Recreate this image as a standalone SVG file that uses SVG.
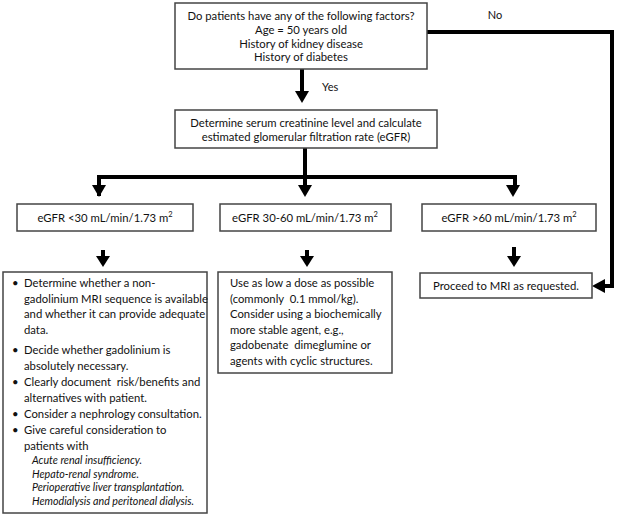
<svg xmlns="http://www.w3.org/2000/svg" width="618" height="516" viewBox="0 0 618 516">
<style>
text{font-family:Lato,"Liberation Sans",sans-serif;font-size:11.3px;fill:#111}
.c{text-anchor:middle}
.it{font-style:italic;font-size:10.7px}
.box{fill:#fff;stroke:#444;stroke-width:1.5}
.ln{fill:none;stroke:#000;stroke-width:4}
.sup{font-size:7.5px}
.pre{white-space:pre}
</style>
<g id="connectors">
<path class="ln" d="M302,69 V92"/><path d="M295,91 L309,91 L302,103 Z"/>
<text x="322" y="91" style="font-size:11px">Yes</text>
<path class="ln" d="M427,32 H612 V286 H604"/><path d="M605,279 L605,293 L592,286 Z"/>
<text x="495" y="19" class="c" style="font-size:11px">No</text>
<path class="ln" d="M305,148 V186"/>
<path class="ln" d="M99,196 V177 H515 V186"/>
<path d="M92,185 L106,185 L99,197 Z"/><path d="M298,185 L312,185 L305,197 Z"/><path d="M506,185 L520,185 L513,197 Z"/>
<path class="ln" d="M103,250 V258"/><path d="M96,256 L110,256 L103,267 Z"/>
<path class="ln" d="M307,250 V258"/><path d="M300,256 L314,256 L307,267 Z"/>
<path class="ln" d="M514,247 V258"/><path d="M507,256 L521,256 L514,267 Z"/>
</g>
<g id="n-factors">
<rect class="box" x="175" y="3" width="252" height="66"/>
<text class="c" x="301" y="20">Do patients have any of the following factors?</text>
<text class="c" x="301" y="34">Age = 50 years old</text>
<text class="c" x="301" y="47.5">History of kidney disease</text>
<text class="c" x="301" y="61">History of diabetes</text>
</g>
<g id="n-egfr-calc">
<rect class="box" x="175" y="110" width="262" height="38"/>
<text class="c" x="306" y="127">Determine serum creatinine level and calculate</text>
<text class="c" x="306" y="141">estimated glomerular filtration rate (eGFR)</text>
</g>
<g id="n-lt30">
<rect class="box" x="17" y="204" width="176" height="27"/>
<text class="c" x="105" y="222">eGFR &lt;30 mL/min/1.73 m<tspan class="sup" dy="-5">2</tspan></text>
</g>
<g id="n-30-60">
<rect class="box" x="220" y="204" width="171" height="27"/>
<text class="c" x="305" y="222">eGFR 30-60 mL/min/1.73 m<tspan class="sup" dy="-5">2</tspan></text>
</g>
<g id="n-gt60">
<rect class="box" x="422" y="204" width="174" height="27"/>
<text class="c" x="509" y="222">eGFR &gt;60 mL/min/1.73 m<tspan class="sup" dy="-5">2</tspan></text>
</g>
<g id="n-lt30-actions">
<rect class="box" x="3" y="272" width="204" height="241"/>
<text x="12" y="287">•</text><text x="24" y="287">Determine whether a non-</text>
<text x="24" y="302.5">gadolinium MRI sequence is available</text>
<text x="24" y="318">and whether it can provide adequate</text>
<text x="24" y="333.5">data.</text>
<text x="12" y="354">•</text><text x="24" y="354">Decide whether gadolinium is</text>
<text x="24" y="369.5">absolutely necessary.</text>
<text x="12" y="386">•</text><text class="pre" x="24" y="386">Clearly document  risk/benefits and</text>
<text x="24" y="401.5">alternatives with patient.</text>
<text x="12" y="418">•</text><text x="24" y="418">Consider a nephrology consultation.</text>
<text x="12" y="434">•</text><text x="24" y="434">Give careful consideration to</text>
<text x="24" y="450">patients with</text>
<text class="it" x="32" y="464">Acute renal insufficiency.</text>
<text class="it" x="32" y="477.5">Hepato-renal syndrome.</text>
<text class="it" x="32" y="491">Perioperative liver transplantation.</text>
<text class="it" x="32" y="504.5">Hemodialysis and peritoneal dialysis.</text>
</g>
<g id="n-30-60-actions">
<rect class="box" x="218" y="272" width="174" height="101"/>
<text x="230" y="287">Use as low a dose as possible</text>
<text class="pre" x="230" y="302.5">(commonly  0.1 mmol/kg).</text>
<text x="230" y="318">Consider using a biochemically</text>
<text x="230" y="333.5">more stable agent, e.g.,</text>
<text class="pre" x="230" y="349">gadobenate  dimeglumine or</text>
<text x="230" y="364.5">agents with cyclic structures.</text>
</g>
<g id="n-proceed">
<rect class="box" x="420" y="273" width="172" height="25"/>
<text class="c" x="506" y="290">Proceed to MRI as requested.</text>
</g>
</svg>
